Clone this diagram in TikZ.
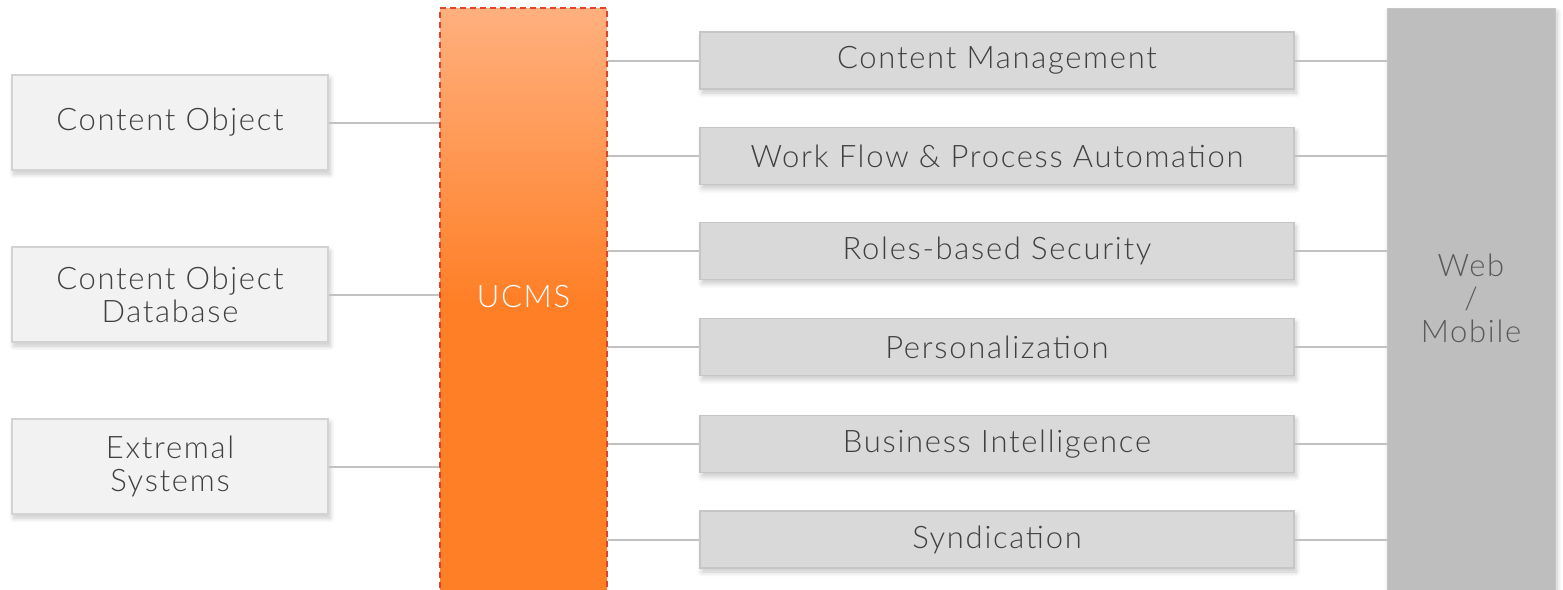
\documentclass[tikz,border=0pt]{standalone}
\usepackage{fontspec}
\setmainfont[LetterSpace=5.5]{Lato Light}
\usetikzlibrary{positioning}
\usetikzlibrary{calc}
\usetikzlibrary{shadows.blur}

\definecolor{ucmsTop}{HTML}{FFB07E}
\definecolor{ucmsMain}{HTML}{FF7F27}
\definecolor{ucmsEdge}{HTML}{E2442A}
\definecolor{leftFill}{HTML}{F2F2F2}
\definecolor{leftEdge}{HTML}{D3D3D3}
\definecolor{midFill}{HTML}{D9D9D9}
\definecolor{midEdge}{HTML}{C6C6C6}
\definecolor{webFill}{HTML}{BEBEBE}
\definecolor{linkGray}{HTML}{C2C2C2}
\definecolor{textGray}{HTML}{404040}
\definecolor{webText}{HTML}{5A5A5A}

% orange column: fades in the upper half, solid below
\pgfdeclareverticalshading{ucmsfade}{100bp}{color(0bp)=(ucmsMain); color(51bp)=(ucmsMain); color(75bp)=(ucmsTop); color(100bp)=(ucmsTop)}

\tikzset{
  boxshadow/.style={blur shadow={shadow xshift=2pt, shadow yshift=-4pt, shadow blur steps=6, shadow blur radius=5pt, shadow opacity=22}},
  leftbox/.style={draw=leftEdge, line width=1.2pt, fill=leftFill, minimum width=316pt, minimum height=95pt, text=textGray, align=center, font=\fontsize{31}{33}\selectfont, boxshadow},
  midbox/.style={draw=midEdge, line width=1.2pt, fill=midFill, minimum width=594pt, minimum height=57pt, text=textGray, font=\fontsize{31}{33}\selectfont, boxshadow},
  ucmsbox/.style={draw=ucmsEdge, line width=1.5pt, dash pattern=on 6pt off 4pt, shading=ucmsfade, minimum width=167pt, minimum height=612pt},
  webbox/.style={draw=webFill!90!white, line width=1pt, fill=webFill, minimum width=168pt, minimum height=612pt, boxshadow},
  link/.style={draw=linkGray, line width=2pt}
}

\begin{document}
\begin{tikzpicture}[x=1pt,y=-1pt]
		\useasboundingbox (0,0) rectangle (1563,589);

		% Define the big columns
		\node[ucmsbox] (ucms) at (523.5,314) {};
		\node[text=white, font=\fontsize{31}{33}\selectfont] (ucmstext) at (523.5,297) {UCMS};
		\node[webbox] (web) at (1471,314) {};
		\node[text=webText, align=center, font=\fontsize{31}{33}\selectfont] (webtext) at (1471,298) {Web\\/\\Mobile};

		% Left side boxes
		\foreach \name/\y/\text in {co/122.5/Content Object, codb/294.5/Content Object\\Database, ext/466.5/Extremal\\Systems}
		{
			\node[leftbox] (\name) at (170,\y) {\text};
			\draw[link] (\name.east) -- (\name -| ucms.west);
		}

		% Middle boxes
		\foreach \name/\y/\text in {cm/60.5/Content Management, wf/156/Work Flow \& Process Automation, rbs/251/Roles-based Security, pers/347/Personalization, bi/444/Business Intelligence, synd/539.5/Syndication}
		{
			\node[midbox] (\name) at (997,\y) {\text};
			\draw[link] (\name -| ucms.east) -- (\name.west);
			\draw[link] (\name.east) -- (\name -| web.west);
		}
	\end{tikzpicture}
\end{document}
